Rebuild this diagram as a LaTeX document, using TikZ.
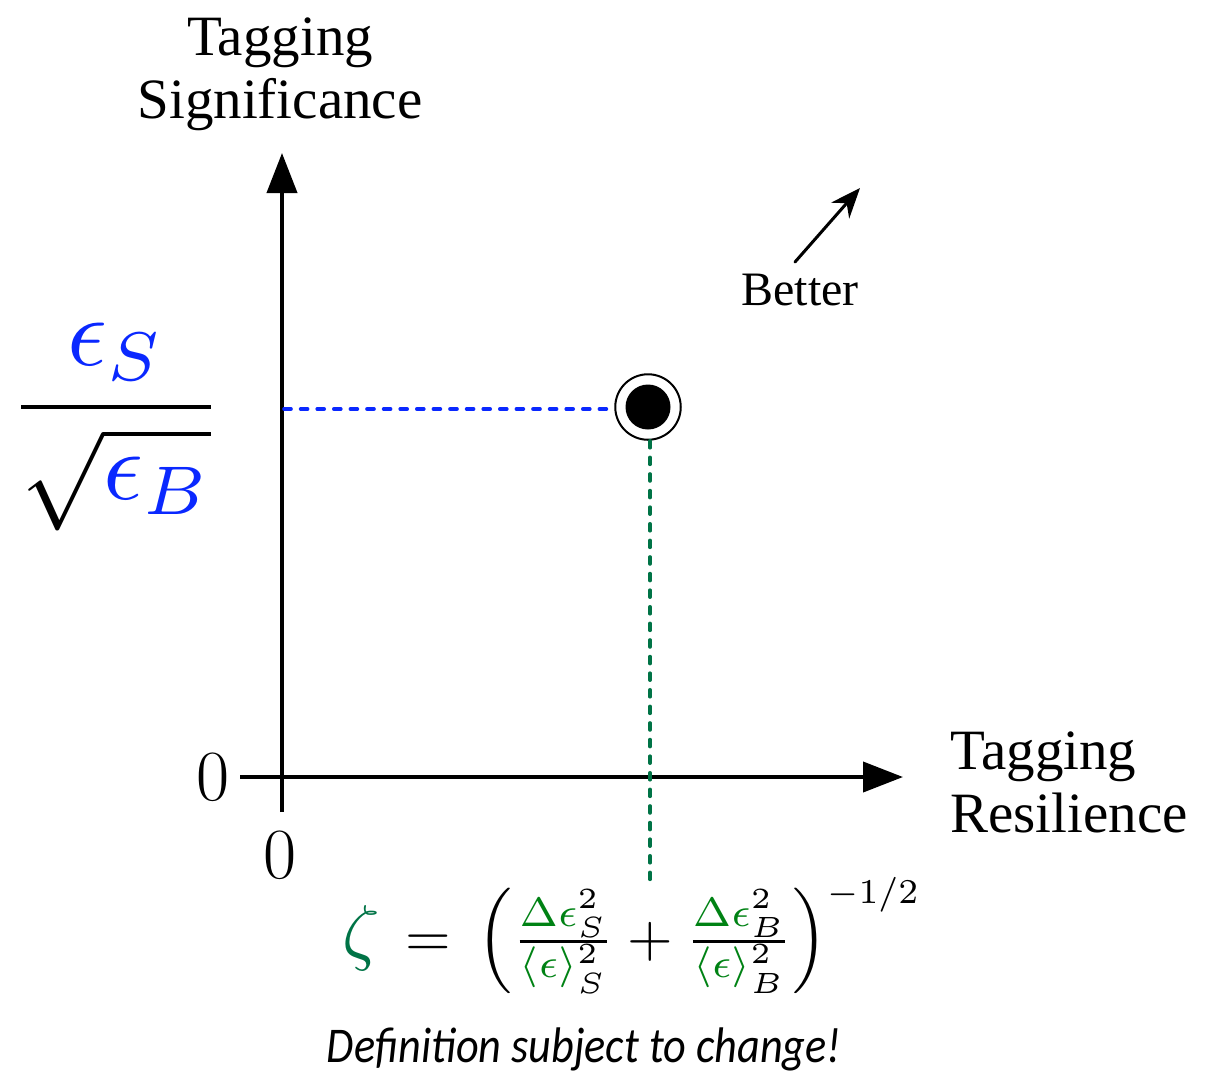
\RequirePackage{fix-cm}
\documentclass[tikz,border=0pt]{standalone}
\usepackage{fontspec}
\setmainfont{Liberation Serif}
\newfontfamily\notefont{Carlito}
\usetikzlibrary{arrows.meta}
\definecolor{myblue}{RGB}{10,40,255}
\definecolor{dkgreen}{RGB}{0,115,70}
\definecolor{mgreen}{RGB}{0,130,20}
\tikzset{
  axis/.style={line width=2pt,-{Triangle[length=20pt,width=15pt]}},
  lbl/.style={font=\fontsize{28.5}{31.5}\selectfont,align=center,inner sep=0pt},
  zero/.style={font=\fontsize{36}{40}\selectfont,inner sep=0pt},
  dashline/.style={line width=1.8pt,dash pattern=on 3.5pt off 4.8pt,line cap=round},
}
\begin{document}
\begin{tikzpicture}[x=0.5pt,y=-0.5pt]
\useasboundingbox (0,0) rectangle (1221,1073);
% axes
\coordinate (ybot) at (282,812);
\coordinate (ytop) at (282,153);
\coordinate (xleft) at (240,777);
\coordinate (xright) at (903,777);
\draw[axis] (ybot) -- (ytop);
\draw[axis] (xleft) -- (xright);
% labels
\node[lbl,anchor=base] (ylab) at (280,118) {Tagging\\Significance};
\node[lbl,anchor=base west,align=left] (xlab) at (950,832) {Tagging\\Resilience};
\node[zero] (z1) at (213,777) {$0$};
\node[zero] (z2) at (280,855) {$0$};
% point
\node[circle,fill=black,minimum size=22.5pt,inner sep=0pt] (pt) at (648,407) {};
\node[circle,draw=black,line width=1pt,minimum size=32.75pt,inner sep=0pt] (ring) at (648,407) {};
% dashed lines
\coordinate (bl) at (284,409);
\draw[dashline,myblue] (bl) -- (ring.west |- bl);
\coordinate (gb) at (650,888);
\draw[dashline,dkgreen] (ring.south -| gb) -- (gb);
% y fraction
\node[inner sep=0pt,anchor=base] (yfrac) at (116,432)
  {\scalebox{4.92}{\fontsize{10}{12}\selectfont$\displaystyle\frac{\color{myblue}\epsilon_S}{\sqrt{\color{myblue}\epsilon_B}}$}};
% better
\coordinate (b1) at (795,262);
\coordinate (b2) at (860,188);
\draw[line width=1.5pt,line cap=round,-{Stealth[length=15pt,width=12pt]}] (b1) -- (b2);
\node[font=\fontsize{24}{28}\selectfont,inner sep=0pt,anchor=base] (better) at (800,305) {Better};
% formula
\node[inner sep=0pt,anchor=base west] (zeta) at (342,956)
  {\scalebox{2.93}{\fontsize{10}{12}\selectfont$\color{dkgreen}\scalebox{1.25}{$\zeta$}\color{black}\,=\, \left(\frac{\color{mgreen}\Delta\epsilon_S^{\color{black}2}}{\color{mgreen}\langle\epsilon\rangle_S^{\color{black}2}}+\frac{\color{mgreen}\Delta\epsilon_B^{\color{black}2}}{\color{mgreen}\langle\epsilon\rangle_B^{\color{black}2}}\right)^{\scalebox{0.85}{$\scriptstyle -1/2$}}$}};
\node[inner sep=0pt,anchor=base] (note) at (584,1062) {\scalebox{0.885}[1]{\notefont\itshape\fontsize{25}{30}\selectfont Definition subject to change!}};
\end{tikzpicture}
\end{document}
